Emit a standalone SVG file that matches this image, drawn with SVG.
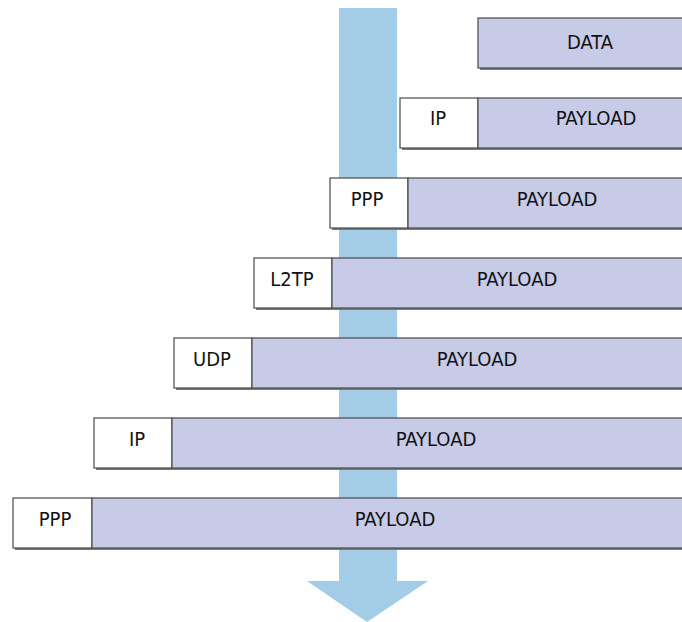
<svg xmlns="http://www.w3.org/2000/svg" width="682" height="622" viewBox="0 0 682 622">
<style>
.sh{fill:#7a7a7a}
.hd{fill:#ffffff;stroke:#4a4a4a;stroke-width:1.2}
.pl{fill:#c8cbe8;stroke:#4a4a4a;stroke-width:1.2}
text{font-family:"DejaVu Sans Condensed","Liberation Sans",sans-serif;font-size:20px;fill:#111;text-anchor:middle}
</style>
<rect width="682" height="622" fill="#ffffff"/>
<g id="arrow">
<polygon points="339,8 397,8 397,581 428,581 367,622 307,581 339,581" fill="#a3cce6"/>
</g>
<g id="row1">
<rect class="sh" x="480" y="20" width="210" height="50"/>
<rect class="pl" x="478" y="18" width="210" height="50"/>
<text x="590" y="49">DATA</text>
</g>
<g id="row2">
<rect class="sh" x="402" y="100" width="320" height="50"/>
<rect class="hd" x="400" y="98" width="78" height="50"/>
<rect class="pl" x="478" y="98" width="240" height="50"/>
<text x="438" y="125">IP</text>
<text x="596" y="125">PAYLOAD</text>
</g>
<g id="row3">
<rect class="sh" x="332" y="180" width="380" height="50"/>
<rect class="hd" x="330" y="178" width="78" height="50"/>
<rect class="pl" x="408" y="178" width="300" height="50"/>
<text x="367" y="206">PPP</text>
<text x="557" y="206">PAYLOAD</text>
</g>
<g id="row4">
<rect class="sh" x="256" y="260" width="450" height="50"/>
<rect class="hd" x="254" y="258" width="78" height="50"/>
<rect class="pl" x="332" y="258" width="370" height="50"/>
<text x="292" y="286">L2TP</text>
<text x="517" y="286">PAYLOAD</text>
</g>
<g id="row5">
<rect class="sh" x="176" y="340" width="520" height="50"/>
<rect class="hd" x="174" y="338" width="78" height="50"/>
<rect class="pl" x="252" y="338" width="440" height="50"/>
<text x="212" y="366">UDP</text>
<text x="477" y="366">PAYLOAD</text>
</g>
<g id="row6">
<rect class="sh" x="96" y="420" width="600" height="50"/>
<rect class="hd" x="94" y="418" width="78" height="50"/>
<rect class="pl" x="172" y="418" width="520" height="50"/>
<text x="137" y="446">IP</text>
<text x="436" y="446">PAYLOAD</text>
</g>
<g id="row7">
<rect class="sh" x="15" y="500" width="680" height="50"/>
<rect class="hd" x="13" y="498" width="79" height="50"/>
<rect class="pl" x="92" y="498" width="600" height="50"/>
<text x="55" y="526">PPP</text>
<text x="395" y="526">PAYLOAD</text>
</g>
</svg>
